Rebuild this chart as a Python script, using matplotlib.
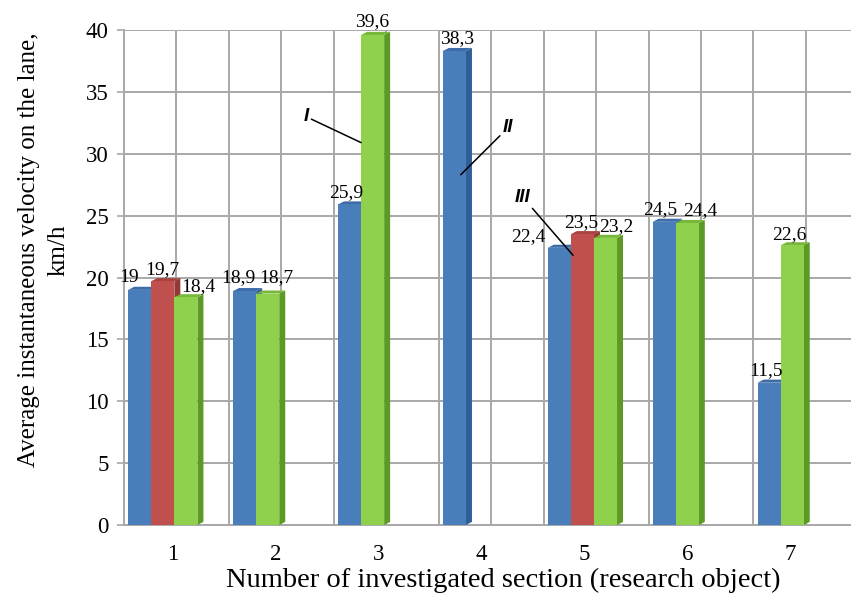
import numpy as np
import matplotlib
matplotlib.use("Agg")
import matplotlib.pyplot as plt
from matplotlib.ticker import MultipleLocator

# ── data ─────────────────────────────────────────────────────
sections = [1, 2, 3, 4, 5, 6, 7]
series_blue  = [19.0, 18.9, 25.9, 38.3, 22.4, 24.5, 11.5]
series_red   = [19.7, np.nan, np.nan, np.nan, 23.5, np.nan, np.nan]
series_green = [18.4, 18.7, 39.6, np.nan, 23.2, 24.4, 22.6]
yticks = [0, 5, 10, 15, 20, 25, 30, 35, 40]

# front / side / top colours for the pseudo-3D bars
STYLES = [
    ("#4A7EBB", "#2F5F98", "#3D6CA8"),
    ("#C0504D", "#933836", "#A8423F"),
    ("#8FD14D", "#5C9A25", "#77B83A"),
]

# label nudges (x in category units, y in km/h), in drawing order
LABEL_DX = [-0.10, 0.0, 0.12, -0.06, 0.08, -0.03, 0.0, 0.03,
            -0.30, -0.01, 0.10, -0.04, 0.12, -0.03, -0.03]
LABEL_DY = [1.0, 0.9, 0.9, 1.1, 1.3, 1.0, 1.1, 1.0,
            0.9, 0.9, 0.9, 1.0, 1.0, 1.0, 0.9]

plt.rcParams["font.family"] = ["Liberation Serif", "DejaVu Serif"]

fig = plt.figure(figsize=(8.51, 5.97), dpi=100)
ax = fig.add_axes([124 / 851, 72 / 597, 734.3 / 851, 495 / 597])
ax.set_xlim(0.5, 7.5)
ax.set_ylim(0, 40)

BAR_W = 0.22
DEPTH_X, DEPTH_Y = 0.057, 0.25

k = 0
for i, sec in enumerate(sections):
    vals = [series_blue[i], series_red[i], series_green[i]]
    slot = 0
    for s, v in enumerate(vals):
        if np.isnan(v):
            continue
        left = sec - 0.46 + slot * BAR_W
        right = left + BAR_W
        front, side, top = STYLES[s]
        ax.fill([right, right + DEPTH_X, right + DEPTH_X, right],
                [0, DEPTH_Y, v + DEPTH_Y, v], color=side, lw=0, zorder=3)
        ax.fill([left, left + DEPTH_X, right + DEPTH_X, right],
                [v, v + DEPTH_Y, v + DEPTH_Y, v], color=top, lw=0, zorder=3)
        ax.bar(left, v, width=BAR_W, align="edge", color=front,
               linewidth=0, zorder=4)
        label = f"{v:g}".replace(".", ",")
        ax.text(left + BAR_W / 2 + LABEL_DX[k], v + LABEL_DY[k], label,
                ha="center", va="center", fontsize=14, zorder=6,
                clip_on=False)
        slot += 1
        k += 1

# back-wall grid
ax.xaxis.set_minor_locator(MultipleLocator(0.5))
ax.set_xticks([s - 0.04 - 0.018 * (s - 1) for s in sections])
ax.set_xticklabels([str(s) for s in sections])
ax.set_yticks(yticks)
ax.grid(which="minor", axis="x", color="#A8A8A8", lw=1.4, zorder=0)
ax.grid(which="major", axis="y", color="#A8A8A8", lw=1.4, zorder=0)
ax.tick_params(axis="x", which="both", length=0, pad=14, labelsize=16.5)
ax.tick_params(axis="y", length=5, color="#A8A8A8", width=1.2, pad=6,
               labelsize=16.5)
for side in ["top", "right"]:
    ax.spines[side].set_visible(False)
for side in ["left", "bottom"]:
    ax.spines[side].set_color("#A8A8A8")
    ax.spines[side].set_linewidth(1.4)

# leader annotations
ann_kw = dict(fontsize=13.5, fontweight="bold", fontstyle="italic",
              family=["Liberation Sans", "DejaVu Sans"], ha="center",
              va="center", zorder=7,
              arrowprops=dict(arrowstyle="-", color="black", lw=1.1,
                              shrinkA=0, shrinkB=0))
ax.annotate("I", xy=(2.76, 30.9), xytext=(2.235, 33.0), **ann_kw)
ax.annotate("II", xy=(3.71, 28.3), xytext=(4.16, 32.1), **ann_kw)
ax.annotate("III", xy=(4.78, 21.8), xytext=(4.30, 26.5), **ann_kw)

fig.text(44 / 851, 1 - 250 / 597,
         "Average instantaneous velocity on the lane,\nkm/h",
         rotation=90, ha="center", va="center", fontsize=18,
         linespacing=1.45)
fig.text(503 / 851, 1 - 580 / 597,
         "Number of investigated section (research object)",
         ha="center", va="center", fontsize=20.5)

fig.savefig("out.png", dpi=100)
